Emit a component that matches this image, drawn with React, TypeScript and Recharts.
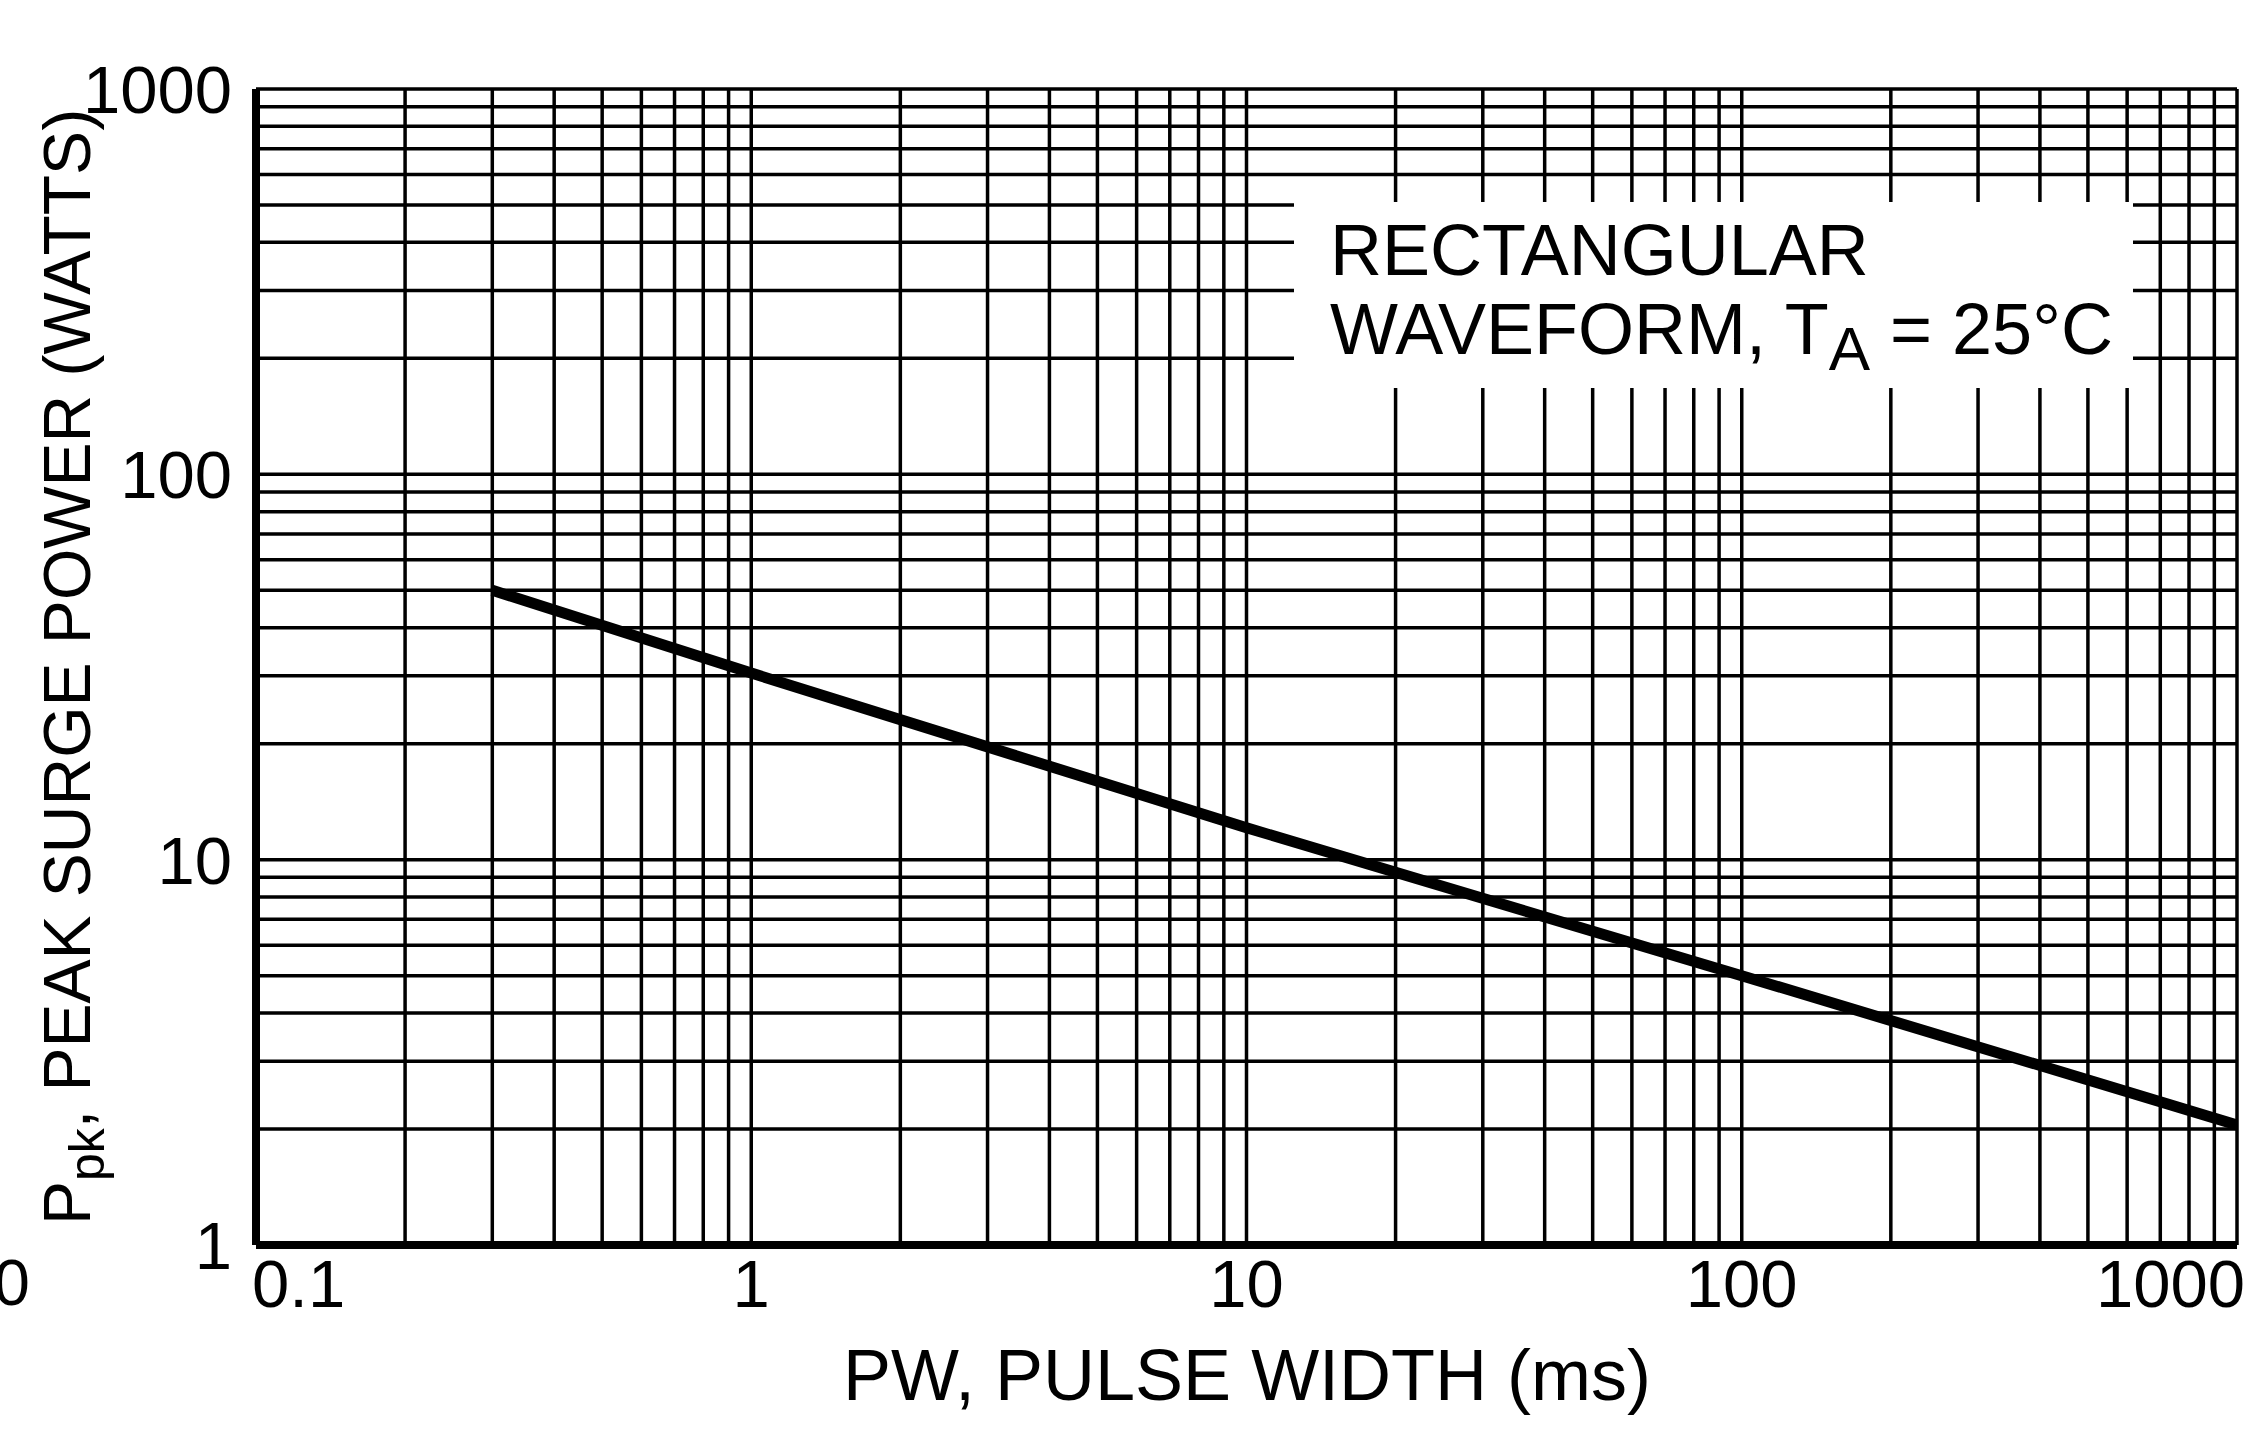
import React from "react";
import { LineChart, Line, XAxis, YAxis, CartesianGrid } from "recharts";

// Peak surge power vs rectangular pulse width (log-log)
const PULSE_WIDTH_MS = [0.3, 1, 10, 100, 1000];
const PEAK_POWER_W = [50, 30.5, 12.1, 5.0, 2.05];

const X_TICKS = [
  0.1, 0.2, 0.3, 0.4, 0.5, 0.6, 0.7, 0.8, 0.9,
  1, 2, 3, 4, 5, 6, 7, 8, 9,
  10, 20, 30, 40, 50, 60, 70, 80, 90,
  100, 200, 300, 400, 500, 600, 700, 800, 900,
  1000,
];
const Y_TICKS = [
  1, 2, 3, 4, 5, 6, 7, 8, 9,
  10, 20, 30, 40, 50, 60, 70, 80, 90,
  100, 200, 300, 400, 500, 600, 700, 800, 900,
  1000,
];
const X_LABELS: Record<string, string> = { "0.1": "0.1", "1": "1", "10": "10", "100": "100", "1000": "1000" };
const Y_LABELS: Record<string, string> = { "1": "1", "10": "10", "100": "100", "1000": "1000" };

const W = 2268;
const H = 1434;
const PLOT = { left: 256, top: 89, right: 2237, bottom: 1245 };
const AXIS_W = 80;
const AXIS_H = 80;
const FONT = '"Liberation Sans", Arial, Helvetica, sans-serif';

const data = PULSE_WIDTH_MS.map((pw, i) => ({ pw, ppk: PEAK_POWER_W[i] }));

function XTick(props: any) {
  const { x, payload } = props;
  const label = X_LABELS[String(payload.value)];
  if (!label) return null;
  let anchor: "start" | "middle" | "end" = "middle";
  let dx = 0;
  if (payload.value === 0.1) {
    anchor = "start";
    dx = -4;
  } else if (payload.value === 1000) {
    anchor = "end";
    dx = 8;
  }
  return (
    <text x={x + dx} y={PLOT.bottom + 62} textAnchor={anchor} fontSize={67} fontFamily={FONT} fill="#000">
      {label}
    </text>
  );
}

function YTick(props: any) {
  const { y, payload } = props;
  const label = Y_LABELS[String(payload.value)];
  if (!label) return null;
  return (
    <text x={PLOT.left - 24} y={y + 24} textAnchor="end" fontSize={67} fontFamily={FONT} fill="#000">
      {label}
    </text>
  );
}

export default function App() {
  return (
    <div style={{ position: "relative", width: W, height: H, background: "#fff" }}>
      <style>{`body{margin:0;background:#fff}`}</style>
      <LineChart
        width={W}
        height={H}
        data={data}
        margin={{
          top: PLOT.top,
          left: PLOT.left - AXIS_W,
          right: W - PLOT.right,
          bottom: H - PLOT.bottom - AXIS_H,
        }}
      >
        <CartesianGrid stroke="#000" strokeWidth={3.5} strokeOpacity={1} />
        <XAxis
          dataKey="pw"
          type="number"
          scale="log"
          domain={[0.1, 1000]}
          ticks={X_TICKS}
          interval={0}
          allowDataOverflow
          height={AXIS_H}
          tickLine={false}
          axisLine={{ stroke: "#000", strokeWidth: 8 }}
          tick={<XTick />}
        />
        <YAxis
          type="number"
          scale="log"
          domain={[1, 1000]}
          ticks={Y_TICKS}
          interval={0}
          allowDataOverflow
          width={AXIS_W}
          tickLine={false}
          axisLine={{ stroke: "#000", strokeWidth: 8 }}
          tick={<YTick />}
        />
        <Line
          type="linear"
          dataKey="ppk"
          stroke="#000"
          strokeWidth={11}
          dot={false}
          isAnimationActive={false}
        />
      </LineChart>

      {/* annotation, axis titles */}
      <svg
        width={W}
        height={H}
        style={{ position: "absolute", left: 0, top: 0, pointerEvents: "none" }}
        fontFamily={FONT}
      >
        <rect x={1294} y={202} width={839} height={186} fill="#fff" />
        <text x={1330} y={275} fontSize={72} fill="#000">
          RECTANGULAR
        </text>
        <text x={1330} y={354} fontSize={72} fill="#000">
          WAVEFORM, T
          <tspan fontSize={62} dy={16}>A</tspan>
          <tspan dy={-16}> = 25°C</tspan>
        </text>

        <text x={1247} y={1400} fontSize={72} textAnchor="middle" fill="#000">
          PW, PULSE WIDTH (ms)
        </text>

        <text transform="translate(90, 667) rotate(-90)" fontSize={66} textAnchor="middle" fill="#000">
          P
          <tspan fontSize={50} dy={14}>pk</tspan>
          <tspan dy={-14}>, PEAK SURGE POWER (WATTS)</tspan>
        </text>

        <text x={30} y={1305} fontSize={65} textAnchor="end" fill="#000">
          0
        </text>
      </svg>
    </div>
  );
}
